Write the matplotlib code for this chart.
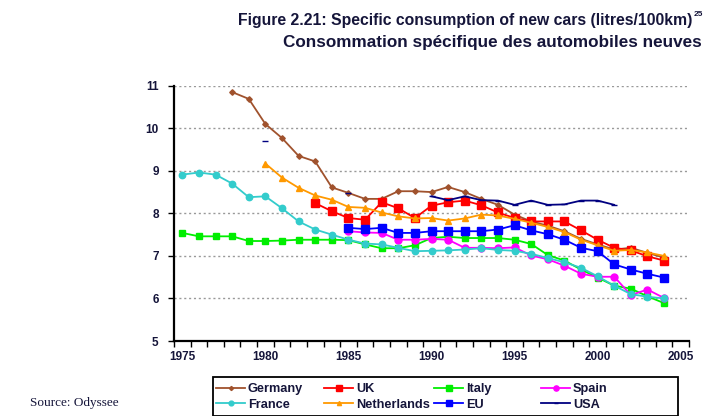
import numpy as np
import matplotlib
matplotlib.use("Agg")
import matplotlib.pyplot as plt
from matplotlib.patches import Rectangle

nan = np.nan
years = list(range(1975, 2006))
tick_labels = ["1975", "1980", "1985", "1990", "1995", "2000", "2005"]

def pad(start, vals):
    out = [nan] * len(years)
    i0 = years.index(start)
    for k, v in enumerate(vals):
        out[i0 + k] = v
    return out

germany_vals = [10.85, 10.69, 10.10, 9.77, 9.35, 9.22, 8.61, 8.48, 8.34, 8.34, 8.52, 8.52,
                8.50, 8.62, 8.50, 8.34, 8.20, 7.97, 7.81, 7.71, 7.58, 7.40, 7.27, 7.15,
                7.19, 7.07, 6.96]
uk_vals = [8.24, 8.05, 7.89, 7.85, 8.26, 8.12, 7.89, 8.18, 8.26, 8.30, 8.19, 8.02, 7.89,
           7.81, 7.81, 7.81, 7.60, 7.38, 7.19, 7.13, 6.99, 6.89]
italy_vals = [7.54, 7.46, 7.46, 7.46, 7.35, 7.35, 7.36, 7.38, 7.38, 7.38, 7.37, 7.27, 7.18,
              7.18, 7.25, 7.42, 7.45, 7.42, 7.42, 7.42, 7.38, 7.28, 7.02, 6.89, 6.68, 6.49,
              6.30, 6.23, 6.05, 5.89]
spain_vals = [7.58, 7.55, 7.54, 7.38, 7.38, 7.40, 7.38, 7.19, 7.19, 7.18, 7.20, 7.01, 6.92,
              6.77, 6.58, 6.51, 6.51, 6.08, 6.21, 6.01]
france_vals = [8.91, 8.96, 8.91, 8.70, 8.38, 8.40, 8.12, 7.81, 7.62, 7.50, 7.38, 7.29, 7.27,
               7.19, 7.11, 7.12, 7.13, 7.15, 7.18, 7.14, 7.12, 7.05, 6.95, 6.85, 6.72, 6.52,
               6.30, 6.10, 6.04, 6.00]
netherlands_vals = [9.17, 8.84, 8.60, 8.42, 8.32, 8.15, 8.13, 8.02, 7.93, 7.88, 7.89, 7.83,
                    7.88, 7.97, 7.95, 7.87, 7.78, 7.68, 7.56, 7.38, 7.25, 7.12, 7.14, 7.08,
                    7.00]
eu_vals = [7.66, 7.63, 7.66, 7.54, 7.54, 7.58, 7.58, 7.58, 7.58, 7.62, 7.72, 7.60, 7.51,
           7.38, 7.19, 7.11, 6.80, 6.68, 6.58, 6.49]
usa_vals = [9.70, nan, nan, nan, nan, 8.49, nan, nan, nan, nan, 8.40, 8.31, 8.40, 8.31,
            8.30, 8.20, 8.30, 8.20, 8.21, 8.30, 8.30, 8.20]

germany = pad(1978, germany_vals)
uk = pad(1983, uk_vals)
italy = pad(1975, italy_vals)
spain = pad(1985, spain_vals)
france = pad(1975, france_vals)
netherlands = pad(1980, netherlands_vals)
eu = pad(1985, eu_vals)
usa = pad(1980, usa_vals)

txt = "#15153a"
plt.rcParams['font.family'] = ['Liberation Sans', 'DejaVu Sans']

W, H = 707, 416
fig = plt.figure(figsize=(W/100, H/100), dpi=100)
ax = fig.add_axes([174/W, 75/H, (689-174)/W, (341-85.7)/H])

x = np.arange(len(years))
series = [
    ("Germany", germany, "#A0522D", "D", 2.8),
    ("UK", uk, "#FF0000", "s", 5.2),
    ("Italy", italy, "#00EE00", "s", 5),
    ("Spain", spain, "#FF00FF", "o", 5),
    ("France", france, "#33CCCC", "o", 4.6),
    ("Netherlands", netherlands, "#FF9900", "^", 4),
    ("EU", eu, "#0000FF", "s", 5.2),
    ("USA", usa, "#000080", "_", 4.5),
]
handles = {}
for name, vals, col, mk, ms in series:
    h, = ax.plot(x, vals, color=col, marker=mk, markersize=ms, linewidth=1.3,
                 markeredgecolor=col, label=name, zorder=3)
    handles[name] = h

ax.set_xlim(-0.5, len(years) - 0.5)
ax.set_ylim(5, 11)
ax.set_yticks(range(5, 12))
ax.set_yticklabels([str(v) for v in range(5, 12)], fontweight='bold', fontsize=8.5, color=txt)
ax.set_xticks([years.index(int(t)) for t in tick_labels])
ax.set_xticklabels(tick_labels, fontweight='bold', fontsize=8.5, color=txt)
ax.tick_params(axis='x', which='major', length=0, pad=7)
ax.set_xticks(np.arange(-0.5, len(years)), minor=True)
ax.tick_params(axis='x', which='minor', length=4, width=1, direction='out')
ax.tick_params(axis='y', length=4, width=1, direction='out', pad=7)

for v in range(6, 12):
    ax.axhline(v, color='#999999', linestyle=(0, (1.5, 2)), linewidth=1, zorder=1)

for s in ['top', 'right']:
    ax.spines[s].set_visible(False)
ax.spines['left'].set_linewidth(1.6)
ax.spines['bottom'].set_linewidth(1.6)

fig.text(692/W, 1 - 20/H, "Figure 2.21: Specific consumption of new cars (litres/100km)",
         ha='right', va='center', fontsize=11.3, fontweight='bold', color=txt)
fig.text(694/W, 1 - 14/H, "25", ha='left', va='center', fontsize=6,
         fontweight='bold', color=txt)
fig.text(702/W, 1 - 42/H, "Consommation spécifique des automobiles neuves",
         ha='right', va='center', fontsize=12.3, fontweight='bold', color=txt)

fig.text(30/W, 1 - 403/H, "Source: Odyssee", ha='left', va='center',
         fontsize=9.5, family='Liberation Serif', color=txt)

# legend: 4 equal-width columns inside a single frame
columns = [["Germany", "France"], ["UK", "Netherlands"], ["Italy", "EU"], ["Spain", "USA"]]
col_x = [216, 324, 434, 541]
for names, cx in zip(columns, col_x):
    lg = fig.legend([handles[n] for n in names], names, ncol=1,
                    loc='upper left', bbox_to_anchor=(cx/W, 1 - 383/H),
                    prop={'weight': 'bold', 'size': 9.2}, frameon=False,
                    handlelength=2.3, handletextpad=0.2, labelspacing=0.3,
                    borderpad=0.0, borderaxespad=0.0, markerscale=0.75)
    for t in lg.get_texts():
        t.set_color(txt)
fig.patches.append(Rectangle((213/W, 0), (678-213)/W, (H-377)/H, transform=fig.transFigure,
                             fill=False, edgecolor='black', linewidth=1.3))

fig.savefig("out.png", dpi=100)
